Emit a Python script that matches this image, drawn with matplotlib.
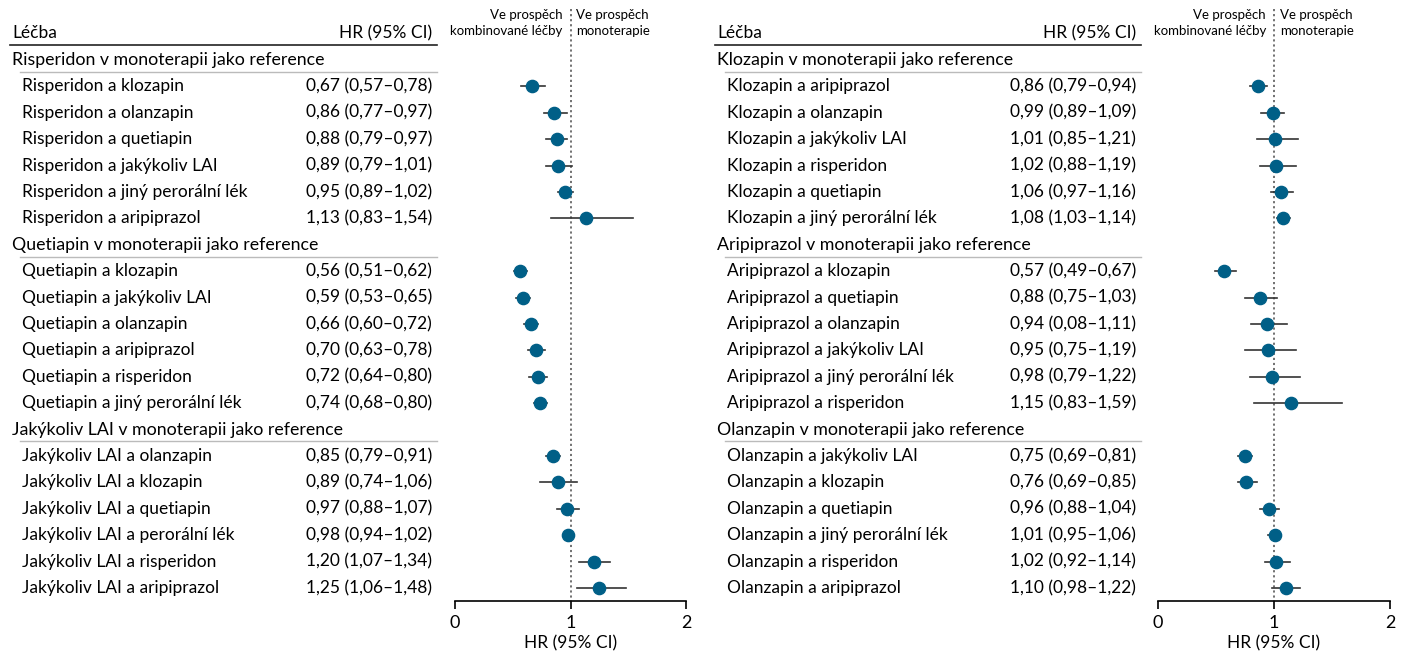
import matplotlib
matplotlib.use('Agg')
import matplotlib.pyplot as plt
import matplotlib.transforms as mtransforms

plt.rcParams['font.family'] = ['Lato', 'DejaVu Sans']

# ---- data: left panel ----
left_groups = [
    'Risperidon v monoterapii jako reference',
    'Quetiapin v monoterapii jako reference',
    'Jakýkoliv LAI v monoterapii jako reference',
]
left_labels = [
    ['Risperidon a klozapin', 'Risperidon a olanzapin', 'Risperidon a quetiapin',
     'Risperidon a jakýkoliv LAI', 'Risperidon a jiný perorální lék', 'Risperidon a aripiprazol'],
    ['Quetiapin a klozapin', 'Quetiapin a jakýkoliv LAI', 'Quetiapin a olanzapin',
     'Quetiapin a aripiprazol', 'Quetiapin a risperidon', 'Quetiapin a jiný perorální lék'],
    ['Jakýkoliv LAI a olanzapin', 'Jakýkoliv LAI a klozapin', 'Jakýkoliv LAI a quetiapin',
     'Jakýkoliv LAI a perorální lék', 'Jakýkoliv LAI a risperidon', 'Jakýkoliv LAI a aripiprazol'],
]
left_hr = [
    [0.67, 0.86, 0.88, 0.89, 0.95, 1.13],
    [0.56, 0.59, 0.66, 0.70, 0.72, 0.74],
    [0.85, 0.89, 0.97, 0.98, 1.20, 1.25],
]
left_lo = [
    [0.57, 0.77, 0.79, 0.79, 0.89, 0.83],
    [0.51, 0.53, 0.60, 0.63, 0.64, 0.68],
    [0.79, 0.74, 0.88, 0.94, 1.07, 1.06],
]
left_hi = [
    [0.78, 0.97, 0.97, 1.01, 1.02, 1.54],
    [0.62, 0.65, 0.72, 0.78, 0.80, 0.80],
    [0.91, 1.06, 1.07, 1.02, 1.34, 1.48],
]
left_txt = [
    ['0,67 (0,57–0,78)', '0,86 (0,77–0,97)', '0,88 (0,79–0,97)',
     '0,89 (0,79–1,01)', '0,95 (0,89–1,02)', '1,13 (0,83–1,54)'],
    ['0,56 (0,51–0,62)', '0,59 (0,53–0,65)', '0,66 (0,60–0,72)',
     '0,70 (0,63–0,78)', '0,72 (0,64–0,80)', '0,74 (0,68–0,80)'],
    ['0,85 (0,79–0,91)', '0,89 (0,74–1,06)', '0,97 (0,88–1,07)',
     '0,98 (0,94–1,02)', '1,20 (1,07–1,34)', '1,25 (1,06–1,48)'],
]

# ---- data: right panel ----
right_groups = [
    'Klozapin v monoterapii jako reference',
    'Aripiprazol v monoterapii jako reference',
    'Olanzapin v monoterapii jako reference',
]
right_labels = [
    ['Klozapin a aripiprazol', 'Klozapin a olanzapin', 'Klozapin a jakýkoliv LAI',
     'Klozapin a risperidon', 'Klozapin a quetiapin', 'Klozapin a jiný perorální lék'],
    ['Aripiprazol a klozapin', 'Aripiprazol a quetiapin', 'Aripiprazol a olanzapin',
     'Aripiprazol a jakýkoliv LAI', 'Aripiprazol a jiný perorální lék', 'Aripiprazol a risperidon'],
    ['Olanzapin a jakýkoliv LAI', 'Olanzapin a klozapin', 'Olanzapin a quetiapin',
     'Olanzapin a jiný perorální lék', 'Olanzapin a risperidon', 'Olanzapin a aripiprazol'],
]
right_hr = [
    [0.86, 0.99, 1.01, 1.02, 1.06, 1.08],
    [0.57, 0.88, 0.94, 0.95, 0.98, 1.15],
    [0.75, 0.76, 0.96, 1.01, 1.02, 1.10],
]
right_lo = [
    [0.79, 0.89, 0.85, 0.88, 0.97, 1.03],
    [0.49, 0.75, 0.80, 0.75, 0.79, 0.83],
    [0.69, 0.69, 0.88, 0.95, 0.92, 0.98],
]
right_hi = [
    [0.94, 1.09, 1.21, 1.19, 1.16, 1.14],
    [0.67, 1.03, 1.11, 1.19, 1.22, 1.59],
    [0.81, 0.85, 1.04, 1.06, 1.14, 1.22],
]
right_txt = [
    ['0,86 (0,79–0,94)', '0,99 (0,89–1,09)', '1,01 (0,85–1,21)',
     '1,02 (0,88–1,19)', '1,06 (0,97–1,16)', '1,08 (1,03–1,14)'],
    ['0,57 (0,49–0,67)', '0,88 (0,75–1,03)', '0,94 (0,08–1,11)',
     '0,95 (0,75–1,19)', '0,98 (0,79–1,22)', '1,15 (0,83–1,59)'],
    ['0,75 (0,69–0,81)', '0,76 (0,69–0,85)', '0,96 (0,88–1,04)',
     '1,01 (0,95–1,06)', '1,02 (0,92–1,14)', '1,10 (0,98–1,22)'],
]

W, H = 1407, 655
MARKER = '#005f87'
FS = 12.5

fig = plt.figure(figsize=(W / 100, H / 100), dpi=100)

# row i sits at pixel 60 + 26.4*i ; axes spans pixels 5..601
ROW0, STEP = 60, 26.4
Y_TOP, Y_BOT = 5, 601


def row_of(px):
    return (px - ROW0) / STEP


def panel(x_lab, x_hr, x_ax0, x_ax2, groups, labels, hr, lo, hi, txt):
    ax = fig.add_axes([x_ax0 / W, 1 - Y_BOT / H, (x_ax2 - x_ax0) / W, (Y_BOT - Y_TOP) / H])
    ax.set_xlim(0, 2)
    ax.set_ylim(row_of(Y_BOT), row_of(Y_TOP))
    for s in ['top', 'left', 'right']:
        ax.spines[s].set_visible(False)
    ax.spines['bottom'].set_linewidth(1.2)
    ax.set_yticks([])
    ax.set_xticks([0, 1, 2])
    ax.set_xticklabels(['0', '1', '2'])
    ax.tick_params(axis='x', length=6, width=1.2, labelsize=13, pad=4)
    ax.set_xlabel('HR (95% CI)', fontsize=12.5, labelpad=3)
    ax.patch.set_alpha(0)

    tr = mtransforms.blended_transform_factory(fig.transFigure, ax.transData)

    # header
    ax.text(x_lab / W, row_of(33), 'Léčba', transform=tr, fontsize=FS, va='center', ha='left')
    ax.text(x_hr / W, row_of(33), 'HR (95% CI)', transform=tr, fontsize=FS, va='center', ha='right')
    ax.plot([(x_lab - 2) / W, (x_hr + 5) / W], [row_of(45)] * 2, transform=tr,
            color='#222222', lw=1.2, clip_on=False)

    # dotted reference line
    ax.plot([1, 1], [row_of(Y_TOP + 4), row_of(Y_BOT)], color='#666666', lw=1.3,
            ls=(0, (1.2, 1.6)), zorder=1)
    ax.text(0.93, row_of(23), 'Ve prospěch\nkombinované léčby', fontsize=9.5,
            ha='right', va='center', linespacing=1.35)
    ax.text(1.05, row_of(23), 'Ve prospěch\nmonoterapie', fontsize=9.5,
            ha='left', va='center', linespacing=1.35)

    r = 0
    for g in range(len(groups)):
        ax.text(x_lab / W, r, groups[g], transform=tr, fontsize=FS + 0.3, va='center', ha='left')
        ax.plot([(x_lab + 8) / W, (x_hr + 5) / W], [r + 0.45] * 2, transform=tr,
                color='#bbbbbb', lw=1.0, clip_on=False)
        r += 1
        for k in range(len(labels[g])):
            ax.text((x_lab + 10) / W, r, labels[g][k], transform=tr, fontsize=FS,
                    va='center', ha='left')
            ax.text(x_hr / W, r, txt[g][k], transform=tr, fontsize=FS,
                    va='center', ha='right')
            ax.plot([lo[g][k], hi[g][k]], [r, r], color='#333333', lw=1.2, zorder=2)
            ax.plot(hr[g][k], r, 'o', color=MARKER, markersize=8.8, zorder=3)
            r += 1
    return ax


panel(12, 432, 455, 686, left_groups, left_labels, left_hr, left_lo, left_hi, left_txt)
panel(717, 1136, 1158, 1390, right_groups, right_labels, right_hr, right_lo, right_hi, right_txt)

fig.savefig('out.png', dpi=100)
